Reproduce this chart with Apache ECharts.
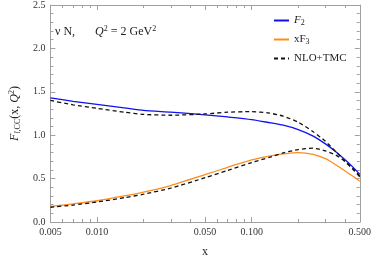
<!DOCTYPE html>
<html><head><meta charset="utf-8">
<script src="https://cdn.jsdelivr.net/npm/echarts@6/dist/echarts.min.js"></script>
<style>html,body{margin:0;padding:0;background:#fff}#c{width:374px;height:263px}</style>
</head><body><div id="c"></div>
<script>
var xs      = [0.005, 0.007, 0.01, 0.015, 0.02, 0.03, 0.05, 0.07, 0.1, 0.13, 0.16, 0.2, 0.25, 0.3, 0.35, 0.4, 0.45, 0.5];
var f2      = [1.43, 1.39, 1.355, 1.315, 1.285, 1.265, 1.235, 1.21, 1.18, 1.145, 1.115, 1.065, 0.99, 0.90, 0.81, 0.72, 0.635, 0.55];
var f2tmc   = [1.40, 1.35, 1.31, 1.265, 1.24, 1.23, 1.245, 1.265, 1.272, 1.255, 1.22, 1.15, 1.04, 0.93, 0.81, 0.70, 0.61, 0.52];
var xf3     = [0.18, 0.21, 0.245, 0.30, 0.345, 0.42, 0.545, 0.63, 0.715, 0.76, 0.785, 0.80, 0.78, 0.73, 0.66, 0.59, 0.53, 0.47];
var xf3tmc  = [0.17, 0.195, 0.23, 0.28, 0.32, 0.39, 0.51, 0.595, 0.685, 0.745, 0.795, 0.835, 0.85, 0.82, 0.77, 0.70, 0.62, 0.53];
var xMajor  = [0.005, 0.01, 0.05, 0.1, 0.5];
var xLabels = ['0.005', '0.010', '0.050', '0.100', '0.500'];
var xMinor  = [0.006, 0.007, 0.008, 0.009, 0.02, 0.03, 0.04, 0.06, 0.07, 0.08, 0.09, 0.2, 0.3, 0.4];

function pairs(v){ return xs.map(function(x,i){ return [x, v[i]]; }); }
var serif = 'Liberation Serif';
var frame = '#a0a0a0';
function xAx(pos, ticks, len, showLab){
  return {
    type:'log', logBase:10, min:0.005, max:0.5, position:pos,
    axisLine:{show:true, lineStyle:{color:frame}},
    splitLine:{show:false},
    axisTick:{show:true, inside:true, length:len, customValues:ticks, lineStyle:{color:frame}},
    axisLabel:{show:showLab, customValues:ticks, fontFamily:serif, fontSize:10, color:'#333', margin:5,
      formatter:function(v){ for(var i=0;i<xMajor.length;i++){ if(Math.abs(v-xMajor[i])<1e-9) return xLabels[i]; } return ''; }}
  };
}
var chart = echarts.init(document.getElementById('c'));
var xAxes = [xAx('bottom', xMajor, 5, true), xAx('bottom', xMinor, 3, false), xAx('top', xMajor, 5, false), xAx('top', xMinor, 3, false)];
xAxes[0].name = 'x';
xAxes[0].nameLocation = 'middle';
xAxes[0].nameGap = 24;
xAxes[0].nameTextStyle = {fontFamily:serif, fontSize:12, color:'#222'};
function yAx(pos, lab){
  return {
    type:'value', min:0, max:2.5, interval:0.5, position:pos,
    axisLine:{show:true, lineStyle:{color:frame}},
    splitLine:{show:false},
    axisTick:{show:true, inside:true, length:5, lineStyle:{color:frame}},
    minorTick:{show:true, splitNumber:5, length:3, lineStyle:{color:frame}},
    axisLabel:{show:lab, fontFamily:serif, fontSize:10, color:'#333', margin:5,
      formatter:function(v){ return v.toFixed(1); }}
  };
}
var yAxes = [yAx('left', true), yAx('right', false)];
yAxes[0].name = '{i|F}{si|l}{s|,CC}{n|(x, }{i|Q}{sup|2}{n|)}';
yAxes[0].nameLocation = 'middle';
yAxes[0].nameRotate = 90;
yAxes[0].nameGap = 26;
yAxes[0].nameTextStyle = {fontFamily:serif, fontSize:12, color:'#222', rich:{
  i:{fontFamily:serif, fontStyle:'italic', fontSize:12, color:'#222'},
  n:{fontFamily:serif, fontSize:12, color:'#222'},
  si:{fontFamily:serif, fontStyle:'italic', fontSize:8, color:'#222', verticalAlign:'bottom', padding:[6,0,0,0]},
  s:{fontFamily:serif, fontSize:8, color:'#222', verticalAlign:'bottom', padding:[6,0,0,0]},
  sup:{fontFamily:serif, fontSize:8, color:'#222', verticalAlign:'top', padding:[0,0,6,0]}
}};
function ser(name, data, color, dashed){
  return {type:'line', name:name, data:pairs(data), smooth:0.2, symbol:'none', xAxisIndex:0, yAxisIndex:0,
    lineStyle:{color:color, width:1.3, type: dashed ? [4,3] : 'solid'}, itemStyle:{color:color}};
}
var legendRich = {
  i:{fontFamily:serif, fontStyle:'italic', fontSize:11, color:'#222'},
  n:{fontFamily:serif, fontSize:11, color:'#222'},
  s:{fontFamily:serif, fontSize:8, color:'#222', verticalAlign:'bottom', padding:[5,0,0,0]}
};
chart.setOption({
  animation:false,
  backgroundColor:'#fff',
  grid:{left:40, right:13, top:5, bottom:34},
  xAxis:xAxes,
  yAxis:yAxes,
  legend:{
    orient:'vertical', left:268, top:10, itemWidth:15, itemHeight:10, itemGap:7,
    data:['F2','xF3','NLO+TMC'],
    itemStyle:{opacity:0},
    textStyle:{fontFamily:serif, fontSize:11, color:'#222', rich:legendRich},
    formatter:function(n){
      if(n==='F2') return '{i|F}{s|2}';
      if(n==='xF3') return '{n|xF}{s|3}';
      return '{n|NLO+TMC}';
    }
  },
  graphic:[{type:'text', left:55, top:25, style:{
    text:'{n|ν N,}{g|}{i|Q}{sup|2}{n| = 2 GeV}{sup|2}',
    rich:{
      n:{fontFamily:serif, fontSize:12, fill:'#222'},
      i:{fontFamily:serif, fontStyle:'italic', fontSize:12, fill:'#222'},
      g:{width:20},
      sup:{fontFamily:serif, fontSize:8, fill:'#222', verticalAlign:'top', padding:[0,0,6,0]}
    }}}],
  series:[
    ser('F2', f2, '#1010f0', false),
    ser('xF3', xf3, '#ff8c1a', false),
    ser('NLO+TMC', f2tmc, '#111', true),
    ser('NLO+TMC', xf3tmc, '#111', true)
  ]
});
</script></body></html>
